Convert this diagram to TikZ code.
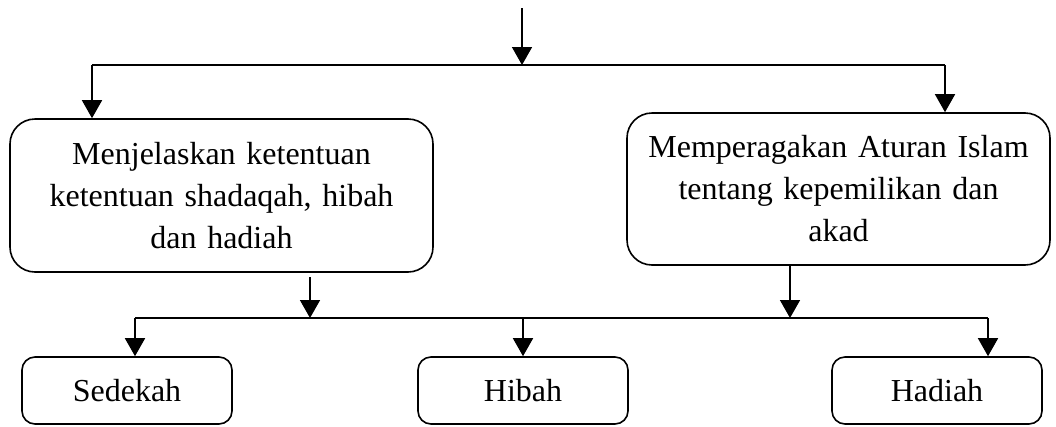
\documentclass[tikz,border=0pt]{standalone}
\usepackage{fontspec}
\setmainfont{Liberation Serif}
\usetikzlibrary{arrows.meta}
\tikzset{
    kotak/.style={draw, line width=1.6pt, rounded corners=25pt, inner sep=0pt,
        minimum width=423pt, minimum height=153pt, align=center,
        text width=410pt, font=\fontsize{32}{42}\selectfont},
    kotakkecil/.style={draw, line width=1.6pt, rounded corners=13pt, inner sep=0pt,
        minimum width=210pt, minimum height=67pt, font=\fontsize{32}{42}\selectfont},
    panah/.style={line width=1.6pt, -{Triangle[width=20pt,length=18pt]}},
    garis/.style={line width=1.6pt}
}
\begin{document}
\begin{tikzpicture}[x=1pt, y=-1pt]
        \useasboundingbox (0,0) rectangle (1056,426);
        \node[kotak] (kiri) at (221.5,195.5) {Menjelaskan ketentuan\\ketentuan shadaqah, hibah\\dan hadiah};
        \node[kotak, minimum height=152pt] (kanan) at (838.5,189) {Memperagakan Aturan Islam\\tentang kepemilikan dan\\akad};
        \node[kotakkecil] (sedekah) at (127,390.5) {Sedekah};
        \node[kotakkecil] (hibah) at (523,390.5) {Hibah};
        \node[kotakkecil] (hadiah) at (937,390.5) {Hadiah};
        \coordinate (atas) at (522,8);
        \coordinate (cabang) at (522,65);
        \coordinate (c1) at (92,65);
        \coordinate (c2) at (945,65);
        \coordinate (b1) at (135,318);
        \coordinate (b2) at (988,318);
        \coordinate (d1) at (310,277);
        \draw[panah] (atas) -- (cabang);
        \draw[garis] (c1) -- (c2);
        \draw[panah] (c1) -- (kiri.north -| c1);
        \draw[panah] (c2) -- (kanan.north -| c2);
        \draw[panah] (d1) -- (d1 |- b1);
        \draw[panah] (kanan.south -| 790,0) -- (b1 -| 790,0);
        \draw[garis] (b1) -- (b2);
        \draw[panah] (b1) -- (sedekah.north -| b1);
        \draw[panah] (b1 -| hibah) -- (hibah.north);
        \draw[panah] (b2) -- (hadiah.north -| b2);
    \end{tikzpicture}
\end{document}
